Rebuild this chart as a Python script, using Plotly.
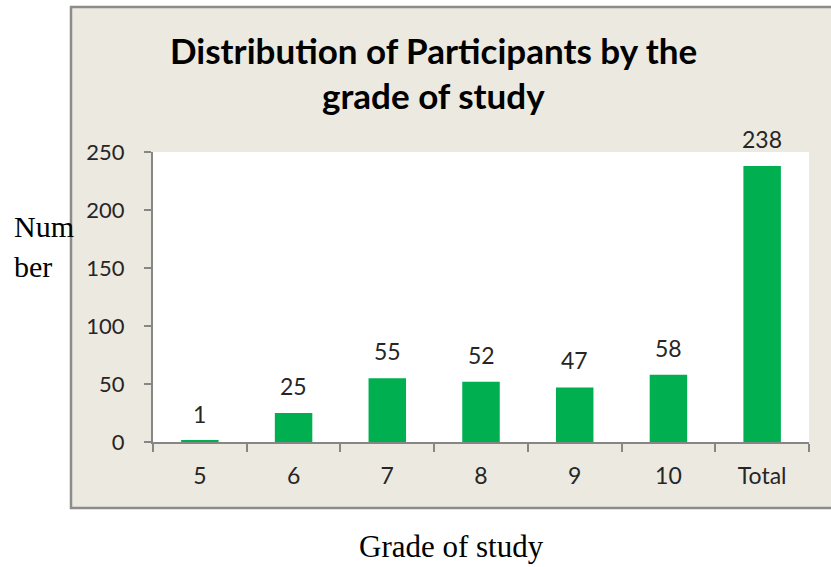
import plotly.graph_objects as go

categories = ["5", "6", "7", "8", "9", "10", "Total"]
participants = [1, 25, 55, 52, 47, 58, 238]
y_ticks = [0, 50, 100, 150, 200, 250]

GREEN = "#00B050"
BEIGE = "#ECE9E0"
GRAY = "#868686"
TXT = "#262626"
FONT = "Lato"

fig = go.Figure()
fig.add_trace(go.Bar(
    x=categories, y=participants,
    marker=dict(color=GREEN, line=dict(width=0)),
    width=0.4,
    cliponaxis=False,
))

# data labels (category axis: position by index)
for i, v in enumerate(participants):
    fig.add_annotation(x=i, y=v, text=str(v), showarrow=False,
                       xanchor="center", yanchor="bottom", yshift=11,
                       font=dict(family=FONT, size=23, color=TXT))

# outer beige chart box
fig.add_shape(type="rect", xref="paper", yref="paper",
              x0=-0.125, x1=1.1, y0=-0.2276, y1=1.5,
              fillcolor=BEIGE, line=dict(color="#8C8C8C", width=2.5), layer="below")
# white plot area
fig.add_shape(type="rect", xref="paper", yref="paper",
              x0=0, x1=1, y0=0, y1=1,
              fillcolor="white", line=dict(width=0), layer="below")

fig.add_annotation(xref="paper", yref="paper", x=0.427, y=(442 - 50) / 290,
                   text="Distribution of Participants by the", showarrow=False,
                   xanchor="center", yanchor="middle",
                   font=dict(family=FONT, size=35, color="black", weight="bold"))
fig.add_annotation(xref="paper", yref="paper", x=0.427, y=(442 - 95) / 290,
                   text="grade of study", showarrow=False,
                   xanchor="center", yanchor="middle",
                   font=dict(family=FONT, size=35, color="black", weight="bold"))

fig.add_annotation(xref="paper", yref="paper", x=(12 - 153) / 656, y=(442 - 226) / 290,
                   text="Num", showarrow=False, xanchor="left", yanchor="middle",
                   font=dict(family="Liberation Serif", size=30, color="black"))
fig.add_annotation(xref="paper", yref="paper", x=(12 - 153) / 656, y=(442 - 266) / 290,
                   text="ber", showarrow=False, xanchor="left", yanchor="middle",
                   font=dict(family="Liberation Serif", size=30, color="black"))
fig.add_annotation(xref="paper", yref="paper", x=(451 - 153) / 656, y=(442 - 546) / 290,
                   text="Grade of study", showarrow=False, xanchor="center", yanchor="middle",
                   font=dict(family="Liberation Serif", size=31, color="black"))

fig.update_layout(
    width=831, height=567,
    margin=dict(l=153, r=22, t=152, b=125),
    paper_bgcolor="white",
    plot_bgcolor="rgba(0,0,0,0)",
    showlegend=False,
    bargap=0.6,
)
fig.update_xaxes(
    type="category", categoryorder="array", categoryarray=categories,
    range=[-0.5, len(categories) - 0.5],
    showline=True, linecolor=GRAY, linewidth=2,
    ticks="outside", tickson="boundaries", ticklen=8, tickcolor=GRAY, tickwidth=2,
    showgrid=False, zeroline=False, automargin=False,
    tickfont=dict(family=FONT, size=23, color=TXT),
    ticklabelstandoff=12,
)
fig.update_yaxes(
    range=[0, 250], tickvals=y_ticks,
    showline=True, linecolor=GRAY, linewidth=2,
    ticks="outside", ticklen=7, tickcolor=GRAY, tickwidth=2,
    showgrid=False, zeroline=False, automargin=False,
    tickfont=dict(family=FONT, size=22, color=TXT),
    ticklabelstandoff=15,
)

fig.write_html("out.html",
               config={"displayModeBar": False},
               post_script="document.body.style.margin='0';document.body.style.overflow='hidden';")
